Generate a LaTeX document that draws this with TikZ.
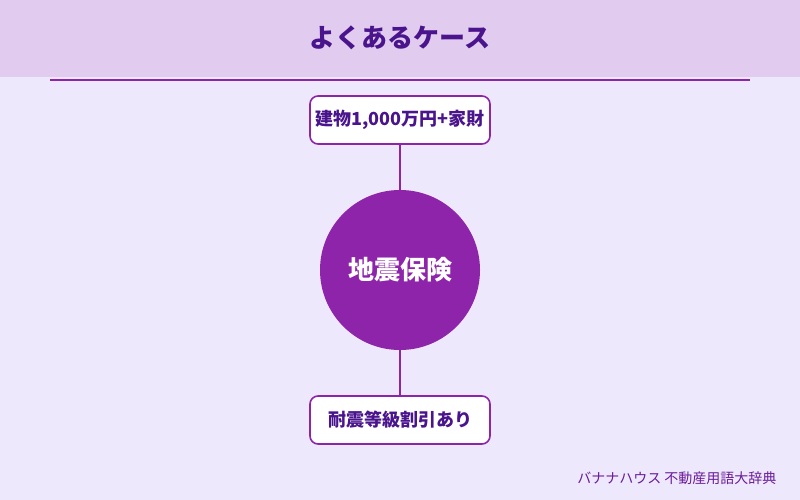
\documentclass[tikz,border=0pt]{standalone}
\usepackage{fontspec}
\newfontfamily\jp{Noto Sans CJK JP}
\definecolor{bgc}{HTML}{EEE8FC}
\definecolor{headc}{HTML}{E1CCF0}
\definecolor{mainc}{HTML}{8E24AA}
\definecolor{darkc}{HTML}{4A148C}
\definecolor{footc}{HTML}{6A1B9A}
\begin{document}
\begin{tikzpicture}[x=1pt,y=-1pt,
  box/.style={draw=mainc, line width=1.6pt, fill=white, rounded corners=8pt, minimum width=180pt, minimum height=48pt, inner sep=0pt, font=\jp\bfseries\fontsize{18}{21}\selectfont, text=darkc},
  conn/.style={draw=mainc, line width=1.6pt}]
\useasboundingbox (0,0) rectangle (800,500);
\fill[bgc] (0,0) rectangle (800,500);
\fill[headc] (0,0) rectangle (800,77);
\draw[mainc, line width=2pt] (50,80) -- (750,80);
\node[font=\jp\bfseries\fontsize{26}{30}\selectfont, text=darkc] (title) at (400,38) {よくあるケース};
\node[box] (top) at (400,120) {建物1,000万円+家財};
\node[circle, fill=mainc, minimum size=160pt, inner sep=0pt, text=white, font=\jp\bfseries\fontsize{26}{30}\selectfont] (c) at (400,270) {地震保険};
\node[box] (bot) at (400,420) {耐震等級割引あり};
\draw[conn] (top) -- (c);
\draw[conn] (c) -- (bot);
\node[anchor=east, font=\jp\fontsize{14}{17}\selectfont, text=footc] (foot) at (780,478) {バナナハウス 不動産用語大辞典};
\end{tikzpicture}
\end{document}
